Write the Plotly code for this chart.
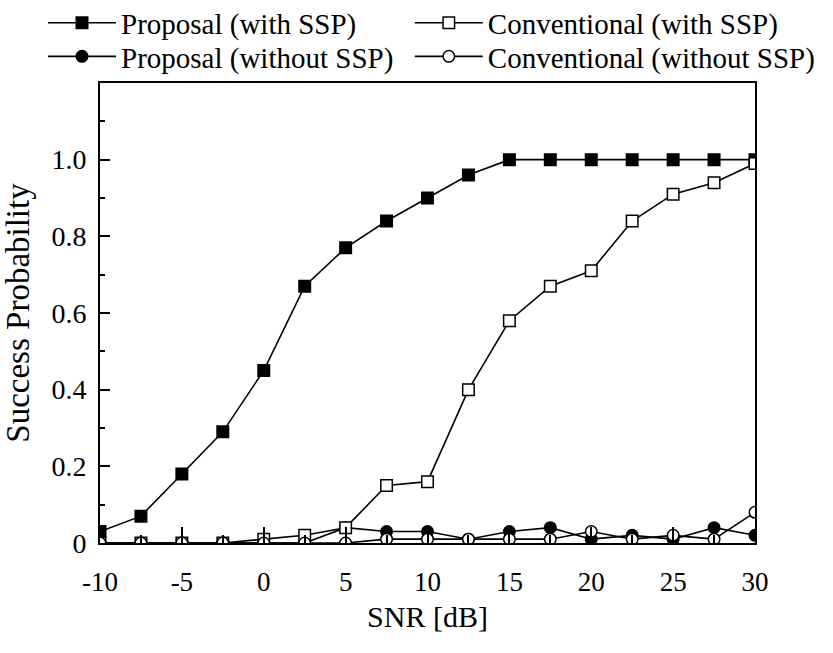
import plotly.graph_objects as go

snr = [-10, -7.5, -5, -2.5, 0, 2.5, 5, 7.5, 10, 12.5, 15, 17.5, 20, 22.5, 25, 27.5, 30]

proposal_with_ssp = [0.03, 0.07, 0.18, 0.29, 0.45, 0.67, 0.77, 0.84, 0.90, 0.96,
                     1.0, 1.0, 1.0, 1.0, 1.0, 1.0, 1.0]
conventional_with_ssp = [0.0, 0.0, 0.0, 0.0, 0.01, 0.02, 0.04, 0.15, 0.16, 0.40,
                         0.58, 0.67, 0.71, 0.84, 0.91, 0.94, 0.99]
proposal_without_ssp = [0.0, 0.0, 0.0, 0.0, 0.0, 0.0, 0.04, 0.03, 0.03, 0.01,
                        0.03, 0.04, 0.01, 0.02, 0.01, 0.04, 0.02]
conventional_without_ssp = [0.0, 0.0, 0.0, 0.0, 0.0, 0.0, 0.0, 0.01, 0.01, 0.01,
                            0.01, 0.01, 0.03, 0.01, 0.02, 0.01, 0.08]

x_tickvals = [-10, -5, 0, 5, 10, 15, 20, 25, 30]
x_ticktext = ["-10", "-5", "0", "5", "10", "15", "20", "25", "30"]
y_tickvals = [0, 0.2, 0.4, 0.6, 0.8, 1.0]
y_ticktext = ["0", "0.2", "0.4", "0.6", "0.8", "1.0"]

FONT = "Liberation Serif"

fig = go.Figure()

def add(name, y, symbol, filled, legend):
    fig.add_trace(go.Scatter(
        x=snr, y=y, name=name, mode="lines+markers",
        line=dict(color="black", width=1.6),
        marker=dict(symbol=symbol, size=11.5,
                    color="black" if filled else "white",
                    line=dict(color="black", width=1.5)),
        legend=legend,
    ))

add("Proposal (with SSP)", proposal_with_ssp, "square", True, "legend")
add("Proposal (without SSP)", proposal_without_ssp, "circle", True, "legend3")
add("Conventional (with SSP)", conventional_with_ssp, "square", False, "legend2")
add("Conventional (without SSP)", conventional_without_ssp, "circle", False, "legend4")

legend_common = dict(
    orientation="v", yanchor="top", xanchor="left",
    font=dict(family=FONT, size=29, color="black"),
    itemwidth=68, tracegroupgap=0, bgcolor="rgba(0,0,0,0)", traceorder="normal",
)

col1_x, col2_x = -0.087, 0.473
row1_y, row2_y = 1.186, 1.113

fig.update_layout(
    width=833, height=653,
    margin=dict(l=100, r=78, t=83, b=110, autoexpand=False),
    plot_bgcolor="white", paper_bgcolor="white",
    font=dict(family=FONT, size=27, color="black"),
    showlegend=True,
    legend=dict(x=col1_x, y=row1_y, **legend_common),
    legend2=dict(x=col2_x, y=row1_y, **legend_common),
    legend3=dict(x=col1_x, y=row2_y, **legend_common),
    legend4=dict(x=col2_x, y=row2_y, **legend_common),
    xaxis=dict(
        range=[-10, 30], tickmode="array", tickvals=x_tickvals, ticktext=x_ticktext,
        ticks="inside", ticklen=16, tickwidth=1.5, tickcolor="black",
        minor=dict(tick0=-10, dtick=2.5, ticks="inside",
                   ticklen=8, tickwidth=1.5, tickcolor="black"),
        showline=True, linecolor="black", linewidth=1.6, mirror=True,
        showgrid=False, zeroline=False,
        ticklabelstandoff=14,
        tickfont=dict(family=FONT, size=27),
        title=dict(text="SNR [dB]", font=dict(family=FONT, size=30), standoff=10),
    ),
    yaxis=dict(
        range=[0, 1.2], tickmode="array", tickvals=y_tickvals, ticktext=y_ticktext,
        ticks="inside", ticklen=10, tickwidth=1.5, tickcolor="black",
        minor=dict(tick0=0, dtick=0.1, ticks="inside",
                   ticklen=5, tickwidth=1.5, tickcolor="black"),
        showline=True, linecolor="black", linewidth=1.6, mirror=True,
        showgrid=False, zeroline=False,
        ticklabelstandoff=6,
        tickfont=dict(family=FONT, size=28),
        title=dict(text="Success Probability", font=dict(family=FONT, size=33), standoff=12),
    ),
)

fig.write_html("out.html")
